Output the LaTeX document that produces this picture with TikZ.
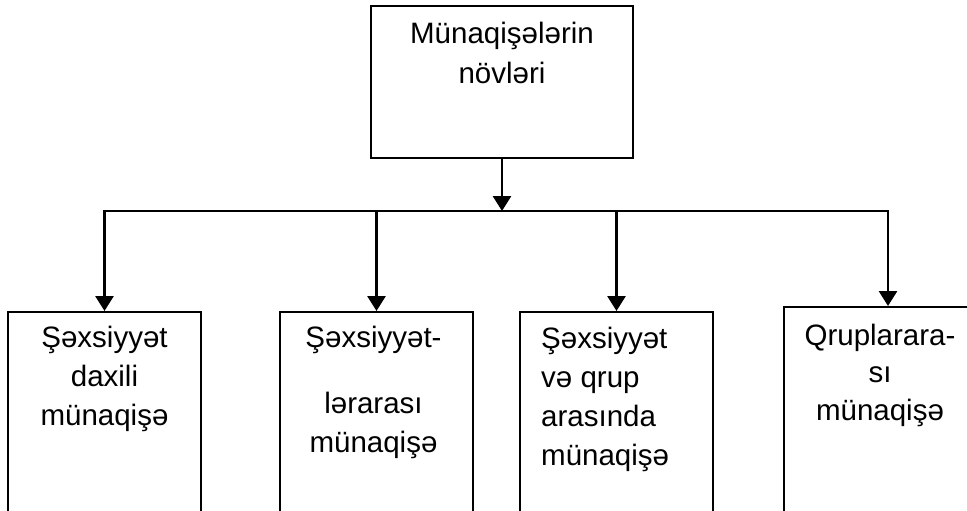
\documentclass[tikz,border=0pt]{standalone}
\usepackage{fontspec}
\setmainfont{Liberation Sans}
\usetikzlibrary{arrows.meta,positioning}
\tikzset{%
  kind/.style     = {shape=rectangle, draw, line width=2pt, inner sep=0pt,%
                     minimum width=193pt, minimum height=230pt, anchor=north},%
  head/.style     = {kind, minimum width=262pt, minimum height=152pt},%
  kindtext/.style = {font=\fontsize{29.5}{39}\selectfont, inner sep=0pt,%
                     align=center},%
  branch/.style   = {-{Triangle[width=18pt,length=15pt]}, line width=2.8pt}%
}

\begin{document}
\begin{tikzpicture}[x=1pt,y=-1pt]
	\useasboundingbox (0,0) rectangle (967,511);
	\clip (0,0) rectangle (967,511);
	% top box
	\node [head] (root) at (502,5) {};
	\node [kindtext, below=10.7pt of root.north] (roottext)
		{\strut Münaqişələrin\\[1pt]növləri};
	% the four kinds
	\node [kind] (b1) at (104.5,311) {};
	\node [kind] (b2) at (376.5,311) {};
	\node [kind] (b3) at (616.5,311) {};
	\node [kind, minimum width=208pt] (b4) at (888,306) {};
	\node [kindtext, below=8.7pt of b1.north] (t1)
		{\strut Şəxsiyyət\\daxili\\münaqişə};
	\node [kindtext, below=8.7pt of b2.north, xshift=-3pt] (t2)
		{\strut Şəxsiyyət-\\[27pt]lərarası\\münaqişə};
	\node [kindtext, align=left, below right=9.7pt and 22pt of b3.north west] (t3)
		{\strut Şəxsiyyət\\və qrup\\arasında\\münaqişə};
	\node [kindtext, below=11.7pt of b4.north, xshift=-8pt] (t4)
		{\strut Qruplarara-\\[-1.5pt]sı\\[-1.5pt]münaqişə};
	% connectors
	\coordinate [below=52pt of root.south] (bar);
	\draw [branch] (root) -- (bar);
	\draw [line width=2.2pt, line cap=rect] (bar -| b1.north) -- (bar -| b4.north);
	\foreach \k in {b1,b2,b3,b4}
		\draw [branch] (bar -| \k.north) -- (\k.north);
\end{tikzpicture}
\end{document}
